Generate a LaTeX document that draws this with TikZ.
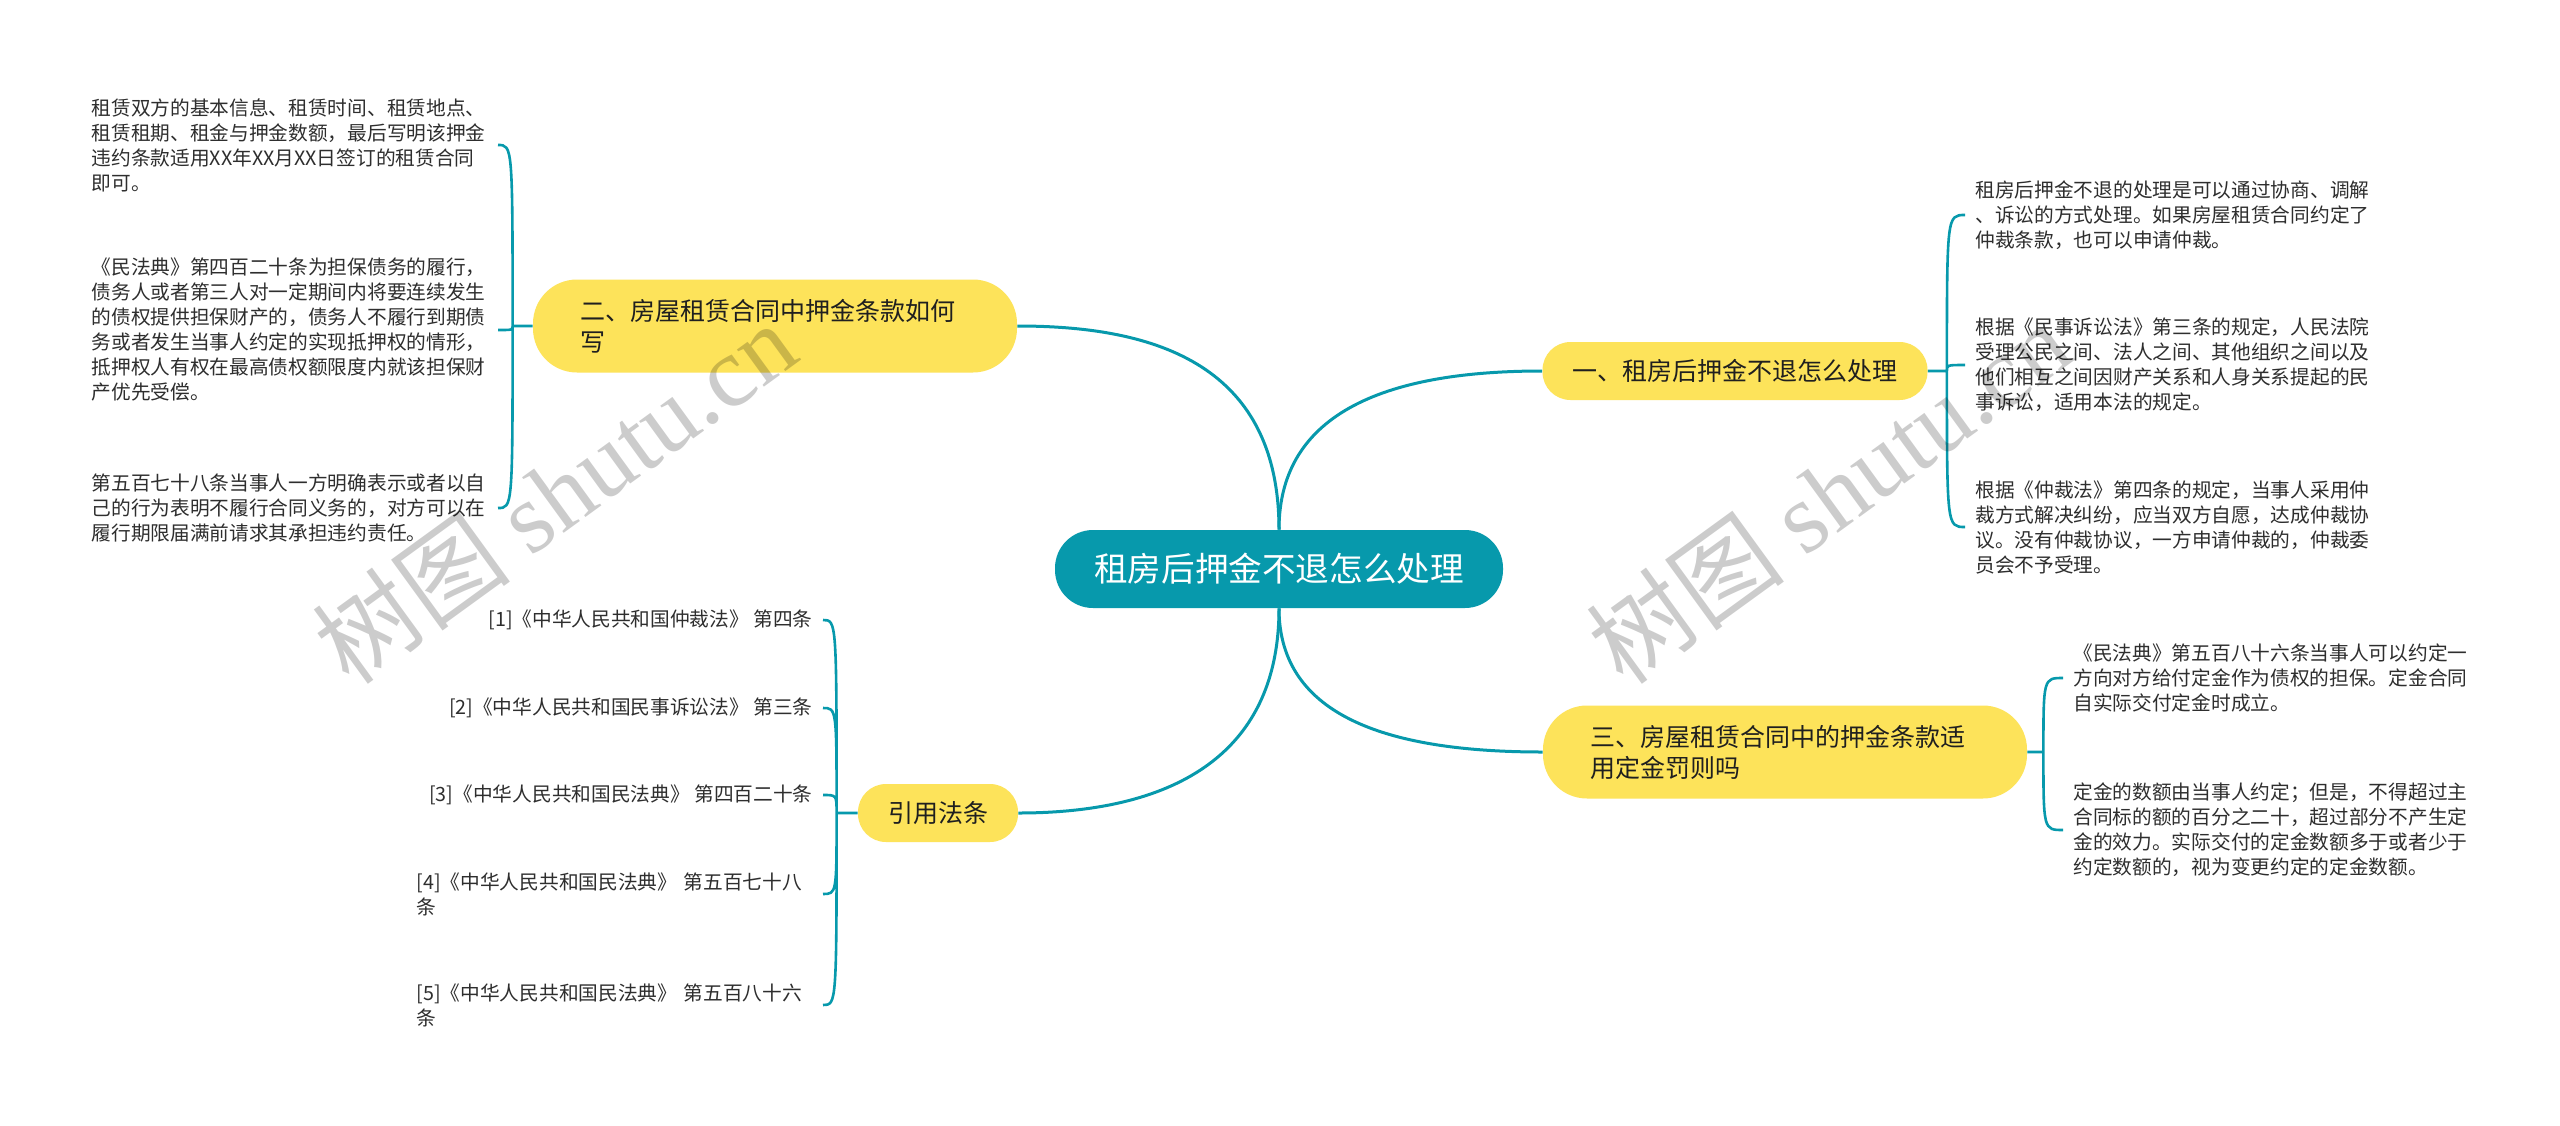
\documentclass[tikz,border=0pt]{standalone}
\usepackage{fontspec}
\setmainfont{Noto Sans CJK SC}
\newfontfamily\wmlatin{Liberation Serif}
\usepackage{xcolor}
\usepackage{tikz}
\usetikzlibrary{positioning}

\definecolor{rootteal}{HTML}{0799AC}
\definecolor{topicyellow}{HTML}{FDE35A}
\definecolor{leafgray}{HTML}{2E2E2E}

\begin{document}
\begin{tikzpicture}[x=0.5pt,y=-0.5pt]
			\tikzstyle{root}=[fill=rootteal,text=white,rounded corners=19pt,minimum width=224pt,minimum height=39pt,font=\fontsize{16.8pt}{20pt}\selectfont]
			\tikzstyle{topic}=[fill=topicyellow,text=black!88,rounded corners=14pt,inner xsep=15pt,minimum height=29pt,font=\fontsize{12.5pt}{15.5pt}\selectfont]
			\tikzstyle{topic wide}=[topic,rounded corners=22pt,text width=195pt,align=left,inner xsep=23.5pt,minimum height=46.5pt]
			\tikzstyle{leaf}=[text=leafgray,inner xsep=5pt,inner ysep=0pt,align=left,text width=198pt,font=\fontsize{9.85pt}{12.5pt}\selectfont]
			\tikzstyle{ref}=[leaf,text width=]
			\tikzstyle{link}=[draw=rootteal,line width=1.5pt]
			\tikzstyle{brace}=[draw=rootteal,line width=1.3pt]
			\tikzstyle{wm}=[anchor=base west,rotate=36,text=black,text opacity=0.2,font=\fontsize{50pt}{50pt}\selectfont]

			\fill[white] (0,0) rectangle (2560,1125);
			\useasboundingbox (0,0) rectangle (2560,1125);

			\node[root] (root) at (1279,569) {租房后押金不退怎么处理};
			\node[topic wide] (t2) at (775,326) {二、房屋租赁合同中押金条款如何\\写};
			\node[topic] (t1) at (1735,371) {一、租房后押金不退怎么处理};
			\node[topic wide] (t3) at (1785,752) {三、房屋租赁合同中的押金条款适\\用定金罚则吗};
			\node[topic] (tref) at (938,813) {引用法条};

			\coordinate (h2) at ([xshift=-10pt]t2.west);
			\coordinate (h1) at ([xshift=9.5pt]t1.east);
			\coordinate (h3) at ([xshift=8pt]t3.east);
			\coordinate (href) at ([xshift=-10.5pt]tref.west);

			\node[leaf,anchor=east] (l21) at (498,145) {租赁双方的基本信息、租赁时间、租赁地点、\\租赁租期、租金与押金数额，最后写明该押金\\违约条款适用XX年XX月XX日签订的租赁合同\\即可。};
			\node[leaf,anchor=east] (l22) at (498,330) {《民法典》第四百二十条为担保债务的履行，\\债务人或者第三人对一定期间内将要连续发生\\的债权提供担保财产的，债务人不履行到期债\\务或者发生当事人约定的实现抵押权的情形，\\抵押权人有权在最高债权额限度内就该担保财\\产优先受偿。};
			\node[leaf,anchor=east] (l23) at (498,508) {第五百七十八条当事人一方明确表示或者以自\\己的行为表明不履行合同义务的，对方可以在\\履行期限届满前请求其承担违约责任。};

			\node[leaf,anchor=west] (l11) at (1965,215) {租房后押金不退的处理是可以通过协商、调解\\、诉讼的方式处理。如果房屋租赁合同约定了\\仲裁条款，也可以申请仲裁。};
			\node[leaf,anchor=west] (l12) at (1965,365) {根据《民事诉讼法》第三条的规定，人民法院\\受理公民之间、法人之间、其他组织之间以及\\他们相互之间因财产关系和人身关系提起的民\\事诉讼，适用本法的规定。};
			\node[leaf,anchor=west] (l13) at (1965,527) {根据《仲裁法》第四条的规定，当事人采用仲\\裁方式解决纠纷，应当双方自愿，达成仲裁协\\议。没有仲裁协议，一方申请仲裁的，仲裁委\\员会不予受理。};

			\node[leaf,anchor=west] (l31) at (2063,678) {《民法典》第五百八十六条当事人可以约定一\\方向对方给付定金作为债权的担保。定金合同\\自实际交付定金时成立。};
			\node[leaf,anchor=west] (l32) at (2063,830) {定金的数额由当事人约定；但是，不得超过主\\合同标的额的百分之二十，超过部分不产生定\\金的效力。实际交付的定金数额多于或者少于\\约定数额的，视为变更约定的定金数额。};

			\node[ref,anchor=east] (r1) at (823,620) {[1]《中华人民共和国仲裁法》 第四条};
			\node[ref,anchor=east] (r2) at (823,708) {[2]《中华人民共和国民事诉讼法》 第三条};
			\node[ref,anchor=east] (r3) at (823,795) {[3]《中华人民共和国民法典》 第四百二十条};
			\node[leaf,anchor=east] (r4) at (823,894) {[4]《中华人民共和国民法典》 第五百七十八\\条};
			\node[leaf,anchor=east] (r5) at (823,1005) {[5]《中华人民共和国民法典》 第五百八十六\\条};

			% main branches
			\draw[link] (root.north) .. controls +(0,-170) and +(130,0) .. (t2.east);
			\draw[link] (root.north) .. controls +(0,-120) and +(-150,0) .. (t1.west);
			\draw[link] (root.south) .. controls +(0,110) and +(-150,0) .. (t3.west);
			\draw[link] (root.south) .. controls +(0,150) and +(150,0) .. (tref.east);

			% leaf braces
			\draw[brace] (t2.west) -- (h2)
				(h2) .. controls (h2 |- l21.east) .. (l21.east)
				(h2) .. controls (h2 |- l22.east) .. (l22.east)
				(h2) .. controls (h2 |- l23.east) .. (l23.east);
			\draw[brace] (t1.east) -- (h1)
				(h1) .. controls (h1 |- l11.west) .. (l11.west)
				(h1) .. controls (h1 |- l12.west) .. (l12.west)
				(h1) .. controls (h1 |- l13.west) .. (l13.west);
			\draw[brace] (t3.east) -- (h3)
				(h3) .. controls (h3 |- l31.west) .. (l31.west)
				(h3) .. controls (h3 |- l32.west) .. (l32.west);
			\draw[brace] (tref.west) -- (href)
				(href) .. controls (href |- r1.east) .. (r1.east)
				(href) .. controls (href |- r2.east) .. (r2.east)
				(href) .. controls (href |- r3.east) .. (r3.east)
				(href) .. controls (href |- r4.east) .. (r4.east)
				(href) .. controls (href |- r5.east) .. (r5.east);

			\node[wm] (wm1) at (345,692) {树图 {\wmlatin shutu.cn}};
			\node[wm] (wm2) at (1619,692) {树图 {\wmlatin shutu.cn}};
		\end{tikzpicture}
\end{document}
